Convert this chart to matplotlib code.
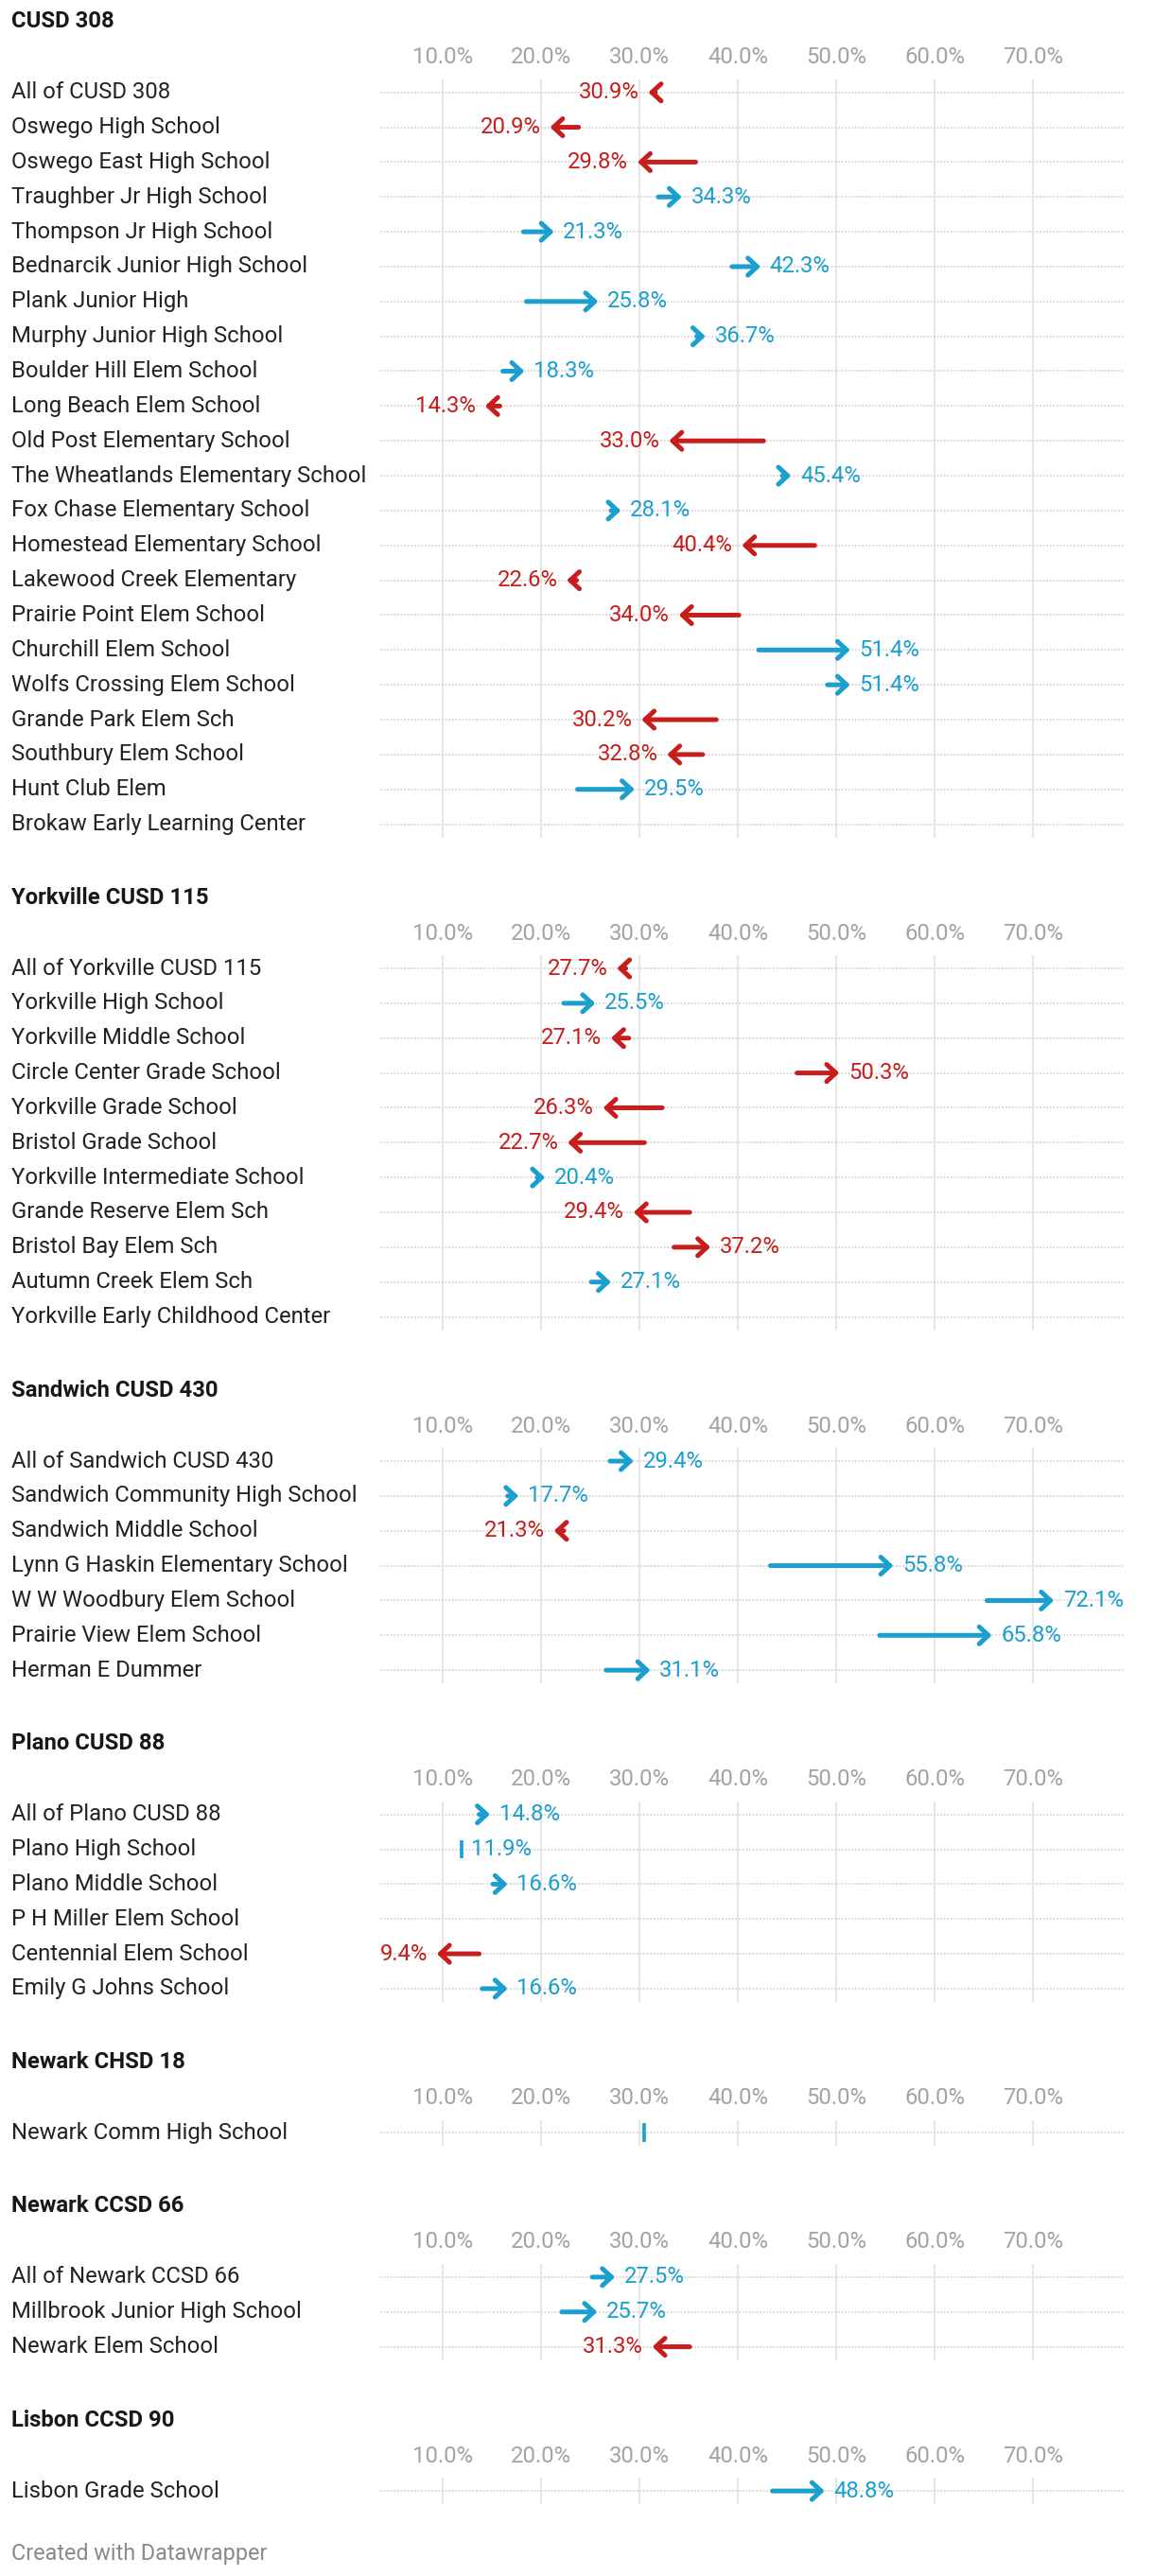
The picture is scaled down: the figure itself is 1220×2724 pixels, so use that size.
import numpy as np
import matplotlib.pyplot as plt
from matplotlib.transforms import blended_transform_factory

plt.rcParams['font.family'] = ['Roboto', 'DejaVu Sans']

# ---- data (percent) ----
nan = np.nan

cusd308_names = ['All of CUSD 308', 'Oswego High School', 'Oswego East High School',
                 'Traughber Jr High School', 'Thompson Jr High School',
                 'Bednarcik Junior High School', 'Plank Junior High',
                 'Murphy Junior High School', 'Boulder Hill Elem School',
                 'Long Beach Elem School', 'Old Post Elementary School',
                 'The Wheatlands Elementary School', 'Fox Chase Elementary School',
                 'Homestead Elementary School', 'Lakewood Creek Elementary',
                 'Prairie Point Elem School', 'Churchill Elem School',
                 'Wolfs Crossing Elem School', 'Grande Park Elem Sch',
                 'Southbury Elem School', 'Hunt Club Elem', 'Brokaw Early Learning Center']
cusd308_start = [31.6, 23.8, 35.7, 31.9, 18.2, 39.4, 18.5, 35.8, 16.1, 15.8, 42.6,
                 44.5, 27.1, 47.8, 23.6, 40.1, 42.1, 49.1, 37.8, 36.4, 23.7, nan]
cusd308_end = [30.9, 20.9, 29.8, 34.3, 21.3, 42.3, 25.8, 36.7, 18.3, 14.3, 33.0,
               45.4, 28.1, 40.4, 22.6, 34.0, 51.4, 51.4, 30.2, 32.8, 29.5, nan]
cusd308_tone = ['neg', 'neg', 'neg', 'pos', 'pos', 'pos', 'pos', 'pos', 'pos', 'neg', 'neg',
                'pos', 'pos', 'neg', 'neg', 'neg', 'pos', 'pos', 'neg', 'neg', 'pos', 'pos']

yorkville_names = ['All of Yorkville CUSD 115', 'Yorkville High School', 'Yorkville Middle School',
                   'Circle Center Grade School', 'Yorkville Grade School', 'Bristol Grade School',
                   'Yorkville Intermediate School', 'Grande Reserve Elem Sch',
                   'Bristol Bay Elem Sch', 'Autumn Creek Elem Sch',
                   'Yorkville Early Childhood Center']
yorkville_start = [28.6, 22.3, 28.9, 46.0, 32.3, 30.5, 19.6, 35.1, 33.5, 25.1, nan]
yorkville_end = [27.7, 25.5, 27.1, 50.3, 26.3, 22.7, 20.4, 29.4, 37.2, 27.1, nan]
yorkville_tone = ['neg', 'pos', 'neg', 'neg', 'neg', 'neg', 'pos', 'neg', 'neg', 'pos', 'pos']

sandwich_names = ['All of Sandwich CUSD 430', 'Sandwich Community High School',
                  'Sandwich Middle School', 'Lynn G Haskin Elementary School',
                  'W W Woodbury Elem School', 'Prairie View Elem School', 'Herman E Dummer']
sandwich_start = [27.0, 16.6, 22.3, 43.3, 65.3, 54.4, 26.6]
sandwich_end = [29.4, 17.7, 21.3, 55.8, 72.1, 65.8, 31.1]
sandwich_tone = ['pos', 'pos', 'neg', 'pos', 'pos', 'pos', 'pos']

plano_names = ['All of Plano CUSD 88', 'Plano High School', 'Plano Middle School',
               'P H Miller Elem School', 'Centennial Elem School', 'Emily G Johns School']
plano_start = [13.7, 11.9, 15.1, nan, 13.7, 14.0]
plano_end = [14.8, 11.9, 16.6, nan, 9.4, 16.6]
plano_tone = ['pos', 'pos', 'pos', 'pos', 'neg', 'pos']

newark18_names = ['Newark Comm High School']
newark18_start = [30.5]
newark18_end = [30.5]
newark18_tone = ['pos']

newark66_names = ['All of Newark CCSD 66', 'Millbrook Junior High School', 'Newark Elem School']
newark66_start = [25.2, 22.1, 35.1]
newark66_end = [27.5, 25.7, 31.3]
newark66_tone = ['pos', 'pos', 'neg']

lisbon_names = ['Lisbon Grade School']
lisbon_start = [43.5]
lisbon_end = [48.8]
lisbon_tone = ['pos']

hidden_labels = ['Newark Comm High School']

groups = [
    ('CUSD 308', cusd308_names, cusd308_start, cusd308_end, cusd308_tone),
    ('Yorkville CUSD 115', yorkville_names, yorkville_start, yorkville_end, yorkville_tone),
    ('Sandwich CUSD 430', sandwich_names, sandwich_start, sandwich_end, sandwich_tone),
    ('Plano CUSD 88', plano_names, plano_start, plano_end, plano_tone),
    ('Newark CHSD 18', newark18_names, newark18_start, newark18_end, newark18_tone),
    ('Newark CCSD 66', newark66_names, newark66_start, newark66_end, newark66_tone),
    ('Lisbon CCSD 90', lisbon_names, lisbon_start, lisbon_end, lisbon_tone),
]
ticks = [10, 20, 30, 40, 50, 60, 70]

# ---- style / layout ----
COLORS = {'pos': '#1a9fce', 'neg': '#c71e1d'}
W, H, DPI = 1220, 2724, 100
ROW, GAP = 36.85, 152.5
X0, X1 = 402, 1188          # pixel extent of plot area
XMIN, XMAX = 3.65, 79.2
FS = 17.2

fig = plt.figure(figsize=(W / DPI, H / DPI), dpi=DPI)
fig.patch.set_facecolor('white')

first = 97.7
for title, names, start, end, tone in groups:
    n = len(names)
    last = first + (n - 1) * ROW
    top, bot = first - 13.7, last + 14
    ax = fig.add_axes([X0 / W, 1 - bot / H, (X1 - X0) / W, (bot - top) / H])
    ax.set_xlim(XMIN, XMAX)
    ax.set_ylim(n - 1 + 14 / ROW, -13.7 / ROW)
    for s in ax.spines.values():
        s.set_visible(False)
    ax.set_yticks([])
    ax.xaxis.tick_top()
    ax.set_xticks(ticks)
    ax.set_xticklabels([f'{t:.1f}%' for t in ticks])
    ax.tick_params(axis='x', length=0, pad=8.5, labelsize=FS, labelcolor='#a3a3a3')
    for t in ticks:
        ax.axvline(t, color='#e6e6e6', lw=1.4, zorder=0)
    ax.hlines(range(n), XMIN, XMAX, colors='#d6d6d6', lw=1.3,
              linestyles=(0, (1, 1)), zorder=1)

    tr = blended_transform_factory(fig.transFigure, ax.transData)
    for i, name in enumerate(names):
        ax.text(12 / W, i, name, transform=tr, ha='left', va='center',
                fontsize=FS, color='#222222')
        a, b = start[i], end[i]
        if np.isnan(a) or np.isnan(b):
            continue
        c = COLORS[tone[i]]
        if abs(a - b) < 0.05:
            ax.plot([b, b], [i - 0.27, i + 0.27], color=c, lw=2.6,
                    solid_capstyle='butt', zorder=3)
            right = True
        else:
            ax.annotate('', xy=(b, i), xytext=(a, i),
                        arrowprops=dict(arrowstyle='->,head_length=0.7,head_width=0.65',
                                        color=c, lw=3.6, mutation_scale=10,
                                        shrinkA=0, shrinkB=0), zorder=3)
            right = b > a
        if name in hidden_labels:
            continue
        ax.annotate(f'{b:.1f}%', xy=(b, i), xytext=(7 if right else -7, 0),
                    textcoords='offset points', ha='left' if right else 'right',
                    va='center', fontsize=FS, color=c, zorder=4)

    fig.text(12 / W, 1 - (first - 75) / H, title, ha='left', va='center',
             fontsize=FS, fontweight='bold', color='#181818')
    first = last + GAP

fig.text(12 / W, 1 - 2701 / H, 'Created with Datawrapper', ha='left', va='center',
         fontsize=16.8, color='#8a8a8a')

fig.savefig('out.png', dpi=DPI, facecolor='white')
